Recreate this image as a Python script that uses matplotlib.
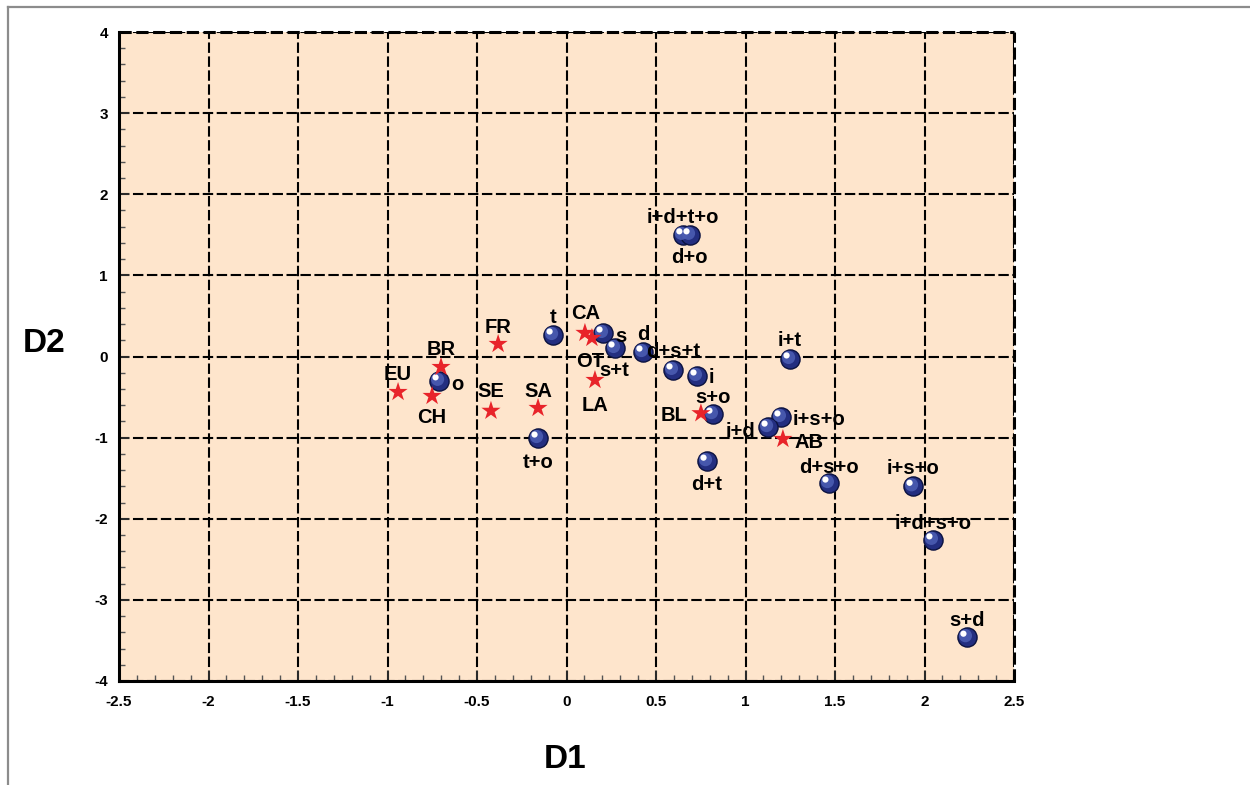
import matplotlib
matplotlib.use("Agg")

import matplotlib.pyplot as plt
import matplotlib.transforms as mtransforms
from matplotlib.lines import Line2D
from matplotlib.ticker import MultipleLocator

plt.rcParams["font.family"] = ["Liberation Sans", "DejaVu Sans"]
plt.rcParams["font.weight"] = "bold"

# combination points (blue spheres)
combo_labels = ["t", "s", "s+t", "d", "d+s+t", "i", "s+o", "i+t", "i+s+o", "i+d",
                "d+t", "d+s+o", "i+s+o", "i+d+s+o", "s+d", "i+d+t+o", "d+o", "o", "t+o"]
combo_d1 = [-0.075, 0.204, 0.271, 0.427, 0.595, 0.729, 0.818, 1.249, 1.198, 1.126,
            0.785, 1.466, 1.936, 2.047, 2.237, 0.650, 0.690, -0.712, -0.159]
combo_d2 = [0.265, 0.290, 0.105, 0.055, -0.165, -0.240, -0.710, -0.030, -0.745, -0.870,
            -1.290, -1.560, -1.600, -2.260, -3.460, 1.500, 1.500, -0.300, -1.005]

# regions (red stars)
region_labels = ["EU", "BR", "CH", "FR", "SE", "SA", "CA", "OT", "LA", "BL", "AB"]
region_d1 = [-0.941, -0.701, -0.751, -0.382, -0.422, -0.159, 0.103, 0.142, 0.159, 0.751, 1.209]
region_d2 = [-0.438, -0.130, -0.487, 0.154, -0.670, -0.635, 0.290, 0.228, -0.290, -0.700, -1.017]

# label placement (offset in pixels, horizontal alignment)
combo_offsets = [(0, 18, "center"), (12, -4, "left"), (-1, -23, "center"), (0, 18, "center"),
                 (0, 18, "center"), (12, -2, "left"), (0, 17, "center"), (0, 18, "center"),
                 (12, -3, "left"), (-13, -4, "right"), (0, -23, "center"), (0, 16, "center"),
                 (0, 18, "center"), (0, 16, "center"), (0, 17, "center"), (0, 17, "center"),
                 (-1, -23, "center"), (12, -4, "left"), (0, -24, "center")]
region_offsets = [(0, 18, "center"), (0, 18, "center"), (0, -21, "center"), (0, 17, "center"),
                  (0, 19, "center"), (0, 17, "center"), (1, 19, "center"), (-2, -23, "center"),
                  (0, -25, "center"), (-14, -2, "right"), (12, -3, "left")]

fig = plt.figure(figsize=(12.5, 7.85), dpi=100)
ax = fig.add_axes([119 / 1250, 1 - 681 / 785, 895 / 1250, 649 / 785])
ax.set_facecolor("#fee5cc")

ax.set_xlim(-2.5, 2.5)
ax.set_ylim(-4, 4)
ax.xaxis.set_major_locator(MultipleLocator(0.5))
ax.xaxis.set_minor_locator(MultipleLocator(0.1))
ax.yaxis.set_major_locator(MultipleLocator(1))
ax.yaxis.set_minor_locator(MultipleLocator(0.2))
ax.xaxis.set_major_formatter(plt.FuncFormatter(lambda v, p: f"{v:g}"))
ax.yaxis.set_major_formatter(plt.FuncFormatter(lambda v, p: f"{v:g}"))

ax.tick_params(which="major", direction="in", length=7, width=1.2, color="#333333",
               labelsize=11, top=False, right=False)
ax.tick_params(axis="x", which="major", pad=10)
ax.tick_params(axis="y", which="major", pad=8)
ax.tick_params(which="minor", direction="in", length=4, width=1, color="#555555",
               top=False, right=False)
for lab in ax.get_xticklabels() + ax.get_yticklabels():
    lab.set_fontweight("bold")

ax.grid(True, which="major", color="black", linestyle=(0, (5, 1.7)), linewidth=1.5, zorder=1)
ax.set_axisbelow(True)
for side in ["top", "right"]:
    ax.spines[side].set_visible(False)
for side in ["left", "bottom"]:
    ax.spines[side].set_linewidth(2.2)
    ax.spines[side].set_color("black")
ax.axhline(4, color="black", linestyle=(0, (4, 1.5)), linewidth=2.2, clip_on=False, zorder=2)
ax.axvline(2.5, color="black", linestyle=(0, (4, 1.5)), linewidth=2.2, clip_on=False, zorder=2)

# shaded spheres
mid = mtransforms.offset_copy(ax.transData, fig=fig, x=-1.5, y=1.5, units="dots")
hi = mtransforms.offset_copy(ax.transData, fig=fig, x=-3.5, y=3.5, units="dots")
ax.scatter(combo_d1, combo_d2, s=190, color="#232e80", edgecolors="#0b1240",
           linewidths=1.0, zorder=3)
ax.scatter(combo_d1, combo_d2, s=90, color="#4b5cb2", edgecolors="none",
           transform=mid, zorder=3, alpha=0.9)
ax.scatter(combo_d1, combo_d2, s=20, color="white", edgecolors="none",
           transform=hi, zorder=3)

ax.scatter(region_d1, region_d2, s=210, marker="*", color="#e8242a", edgecolors="none",
           zorder=4)

for x, y, t, (dx, dy, ha) in zip(combo_d1, combo_d2, combo_labels, combo_offsets):
    ax.annotate(t, (x, y), xytext=(dx, dy), textcoords="offset pixels", ha=ha,
                va="center", fontsize=14.5, fontweight="bold", zorder=5)
for x, y, t, (dx, dy, ha) in zip(region_d1, region_d2, region_labels, region_offsets):
    ax.annotate(t, (x, y), xytext=(dx, dy), textcoords="offset pixels", ha=ha,
                va="center", fontsize=14.5, fontweight="bold", zorder=5)

fig.text(565 / 1250, 1 - 760 / 785, "D1", fontsize=24, fontweight="bold",
         ha="center", va="center")
fig.text(44 / 1250, 1 - 344 / 785, "D2", fontsize=24, fontweight="bold",
         ha="center", va="center")

# outer frame (top and left edges visible)
fig.add_artist(Line2D([7.5 / 1250, 1.0], [1 - 6.5 / 785, 1 - 6.5 / 785],
                      transform=fig.transFigure, color="#8c8c8c", linewidth=1.6))
fig.add_artist(Line2D([7.5 / 1250, 7.5 / 1250], [0.0, 1 - 6.5 / 785],
                      transform=fig.transFigure, color="#8c8c8c", linewidth=1.6))

fig.savefig("out.png", dpi=100)
plt.close(fig)
